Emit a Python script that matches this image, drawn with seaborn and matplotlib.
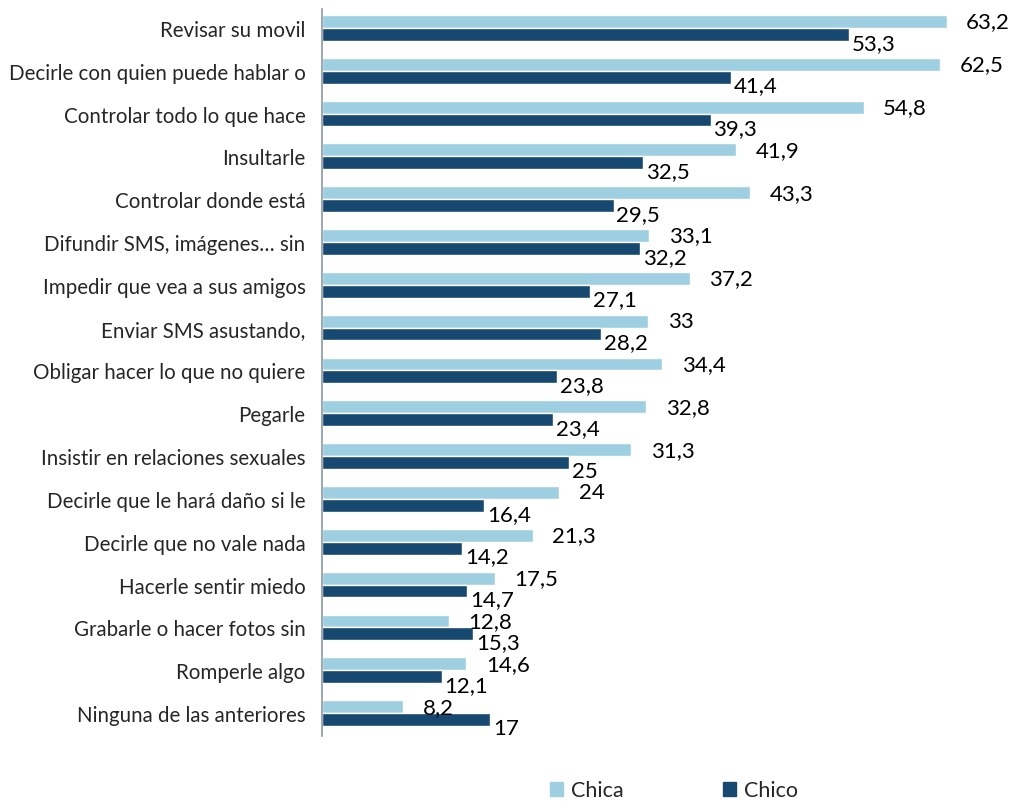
import pandas as pd
import matplotlib
matplotlib.use('Agg')
import matplotlib.pyplot as plt
import seaborn as sns

# datos
categorias = ['Revisar su movil', 'Decirle con quien puede hablar o', 'Controlar todo lo que hace',
              'Insultarle', 'Controlar donde está', 'Difundir SMS, imágenes… sin',
              'Impedir que vea a sus amigos', 'Enviar SMS asustando,', 'Obligar hacer lo que no quiere',
              'Pegarle', 'Insistir en relaciones sexuales', 'Decirle que le hará daño si le',
              'Decirle que no vale nada', 'Hacerle sentir miedo', 'Grabarle o hacer fotos sin',
              'Romperle algo', 'Ninguna de las anteriores']
chica = [63.2, 62.5, 54.8, 41.9, 43.3, 33.1, 37.2, 33, 34.4, 32.8, 31.3, 24, 21.3, 17.5, 12.8, 14.6, 8.2]
chico = [53.3, 41.4, 39.3, 32.5, 29.5, 32.2, 27.1, 28.2, 23.8, 23.4, 25, 16.4, 14.2, 14.7, 15.3, 12.1, 17]
series = ['Chica', 'Chico']
colores = ['#9ecfe0', '#17486f']

df = pd.DataFrame({
    'categoria': categorias * 2,
    'valor': chica + chico,
    'sexo': [series[0]] * len(chica) + [series[1]] * len(chico),
})

sns.set_style('white')
plt.rcParams['font.family'] = ['Lato', 'DejaVu Sans']

fig = plt.figure(figsize=(10.16, 8.03), dpi=100)
ax = fig.add_axes([0.317, 0.082, 0.681, 0.9055])

sns.barplot(data=df, y='categoria', x='valor', hue='sexo', order=categorias,
            hue_order=series, palette=colores, orient='h', width=0.6,
            saturation=1, ax=ax, legend=False)

ax.set_xlim(0, 70)
ax.set_ylim(16.54, -0.44)
ax.set_xlabel('')
ax.set_ylabel('')
ax.set_xticks([])
ax.tick_params(axis='y', length=0, pad=12, labelsize=14.8)
for s in ['top', 'right', 'bottom']:
    ax.spines[s].set_visible(False)
ax.spines['left'].set_color('#8a9aa8')
ax.spines['left'].set_linewidth(1.2)

# etiquetas de datos
def fmt(v):
    return f'{v:g}'.replace('.', ',')

for cont, off in zip(ax.containers, [(14, 0), (2, -6)]):
    for rect, v in zip(cont, cont.datavalues):
        y = rect.get_y() + rect.get_height() / 2
        ax.annotate(fmt(v), (rect.get_width(), y), xytext=off, textcoords='offset points',
                    ha='left', va='center', fontsize=16, color='black')

# leyenda
handles = [plt.Rectangle((0, 0), 1, 1, color=c) for c in colores]
fig.legend(handles, series, loc='lower left', bbox_to_anchor=(0.522, -0.022), ncol=2,
           frameon=False, fontsize=15.5, handlelength=0.6, handleheight=0.6,
           handletextpad=0.4, columnspacing=4.6)

fig.savefig('out.png', dpi=100)
